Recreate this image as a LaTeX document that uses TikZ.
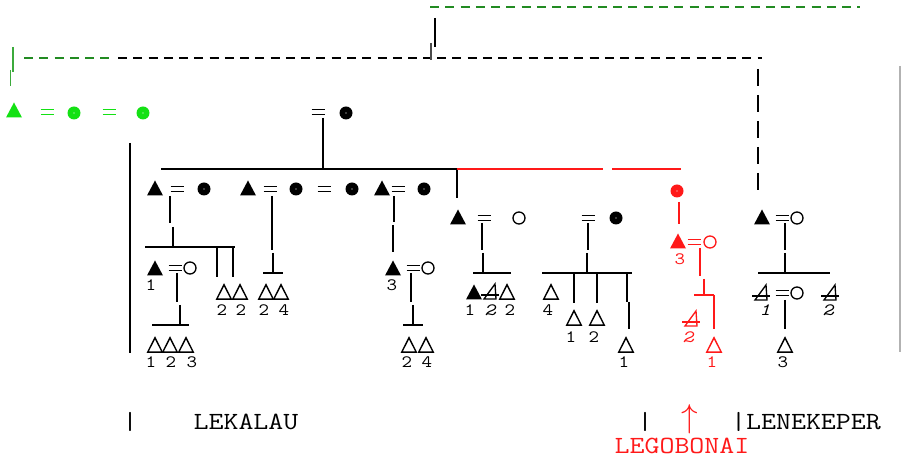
\documentclass[tikz,border=0pt]{standalone}
\usepackage{fontspec}
\newfontfamily\cmono{Latin Modern Mono}[FakeStretch=1.18]
\definecolor{gbright}{RGB}{20,225,20}
\definecolor{gdark}{RGB}{34,139,34}
\definecolor{gmid}{RGB}{60,170,60}
\definecolor{kred}{RGB}{255,25,25}
\begin{document}
\begin{tikzpicture}[x=0.75pt,y=-0.75pt,
  ln/.style={line width=1pt},
  bar/.style={line width=2pt},
  dsh/.style={line width=1.1pt, dash pattern=on 6.75pt off 4.7pt},
  num/.style={font=\cmono\fontsize{13}{13}\selectfont, inner sep=0pt},
  numi/.style={font=\cmono\itshape\fontsize{13}{13}\selectfont, inner sep=0pt},
  lab/.style={font=\cmono\fontsize{18.5}{19}\selectfont, inner sep=0pt, anchor=base},
  ftri/.pic={\fill (-8,7.5)--(8,7.5)--(0,-7.5)--cycle;},
  otri/.pic={\draw[line width=1.05pt, line join=miter] (-7.3,7.2)--(7.3,7.2)--(0,-7.2)--cycle;},
  xtri/.pic={\draw[line width=1pt, line join=miter] (-7,7)--(5,7)--(4,-8)--cycle; \draw[line width=1pt] (-10,3)--(8,3);},
  fcirc/.pic={\fill (0,0) circle (6.5); \fill[white] (0,0) circle (0.7);},
  ocirc/.pic={\draw[line width=1pt] (0,0) circle (6);},
  eq/.pic={\draw[line width=1pt] (-6.5,-2.5)--(6.5,-2.5) (-6.5,2.5)--(6.5,2.5);},
]
\useasboundingbox (0,0) rectangle (901,466);

% ---- top dashed frame ----
\draw[dsh, gdark] (430,7) -- (860,7);
\draw[ln] (435,18) -- (435,47);
\draw[line width=0.8pt, black!70] (431,43) -- (431,60);
\draw[dsh, gdark] (24,58) -- (113,58);
\draw[dsh] (118,58) -- (430,58);
\draw[dsh] (437,58) -- (762,58);
\draw[line width=0.8pt, gmid] (13,47) -- (13,72);
\draw[line width=0.8pt, gmid] (10.5,70) -- (10.5,86);
\draw[ln, dash pattern=on 12.75pt off 6.75pt] (758,69) -- (758,190);
\draw[line width=0.8pt, black!30] (900,66) -- (900,352);

% ---- green row ----
\begin{scope}[gbright]
\pic (g1) at (14,110) {ftri};
\pic (g2) at (47,112) {eq};
\pic (g3) at (74,113) {fcirc};
\pic (g4) at (109,112) {eq};
\pic (g5) at (143,113) {fcirc};
\end{scope}

% ---- top couple ----
\pic (t1) at (318,112) {eq};
\pic (t2) at (346,113) {fcirc};
\draw[ln] (323,118) -- (323,169);
\draw[ln] (161,169) -- (457,169);
\draw[bar] (313,169) -- (333,169);
\draw[ln] (457,169) -- (457,198);
\draw[ln, kred] (457,169) -- (603,169);
\draw[ln, kred] (612,169) -- (681,169);

% ---- row 188 ----
\pic (a1) at (155,188) {ftri};
\pic (a2) at (177,189) {eq};
\pic (a3) at (204,189) {fcirc};
\pic (a4) at (248,188) {ftri};
\pic (a5) at (270,189) {eq};
\pic (a6) at (296,189) {fcirc};
\pic (a7) at (324,189) {eq};
\pic (a8) at (352,189) {fcirc};
\pic (a9) at (382,188) {ftri};
\pic (a10) at (398,189) {eq};
\pic (a11) at (424,189) {fcirc};
\pic[kred] (r1) at (677,191) {fcirc};

% ---- row 217 ----
\pic (b1) at (458,217) {ftri};
\pic (b2) at (484,218) {eq};
\pic (b3) at (519,218) {ocirc};
\pic (b4) at (588,218) {eq};
\pic (b5) at (616,218) {fcirc};
\pic (b6) at (762,217) {ftri};
\pic (b7) at (782,218) {eq};
\pic (b8) at (797,218) {ocirc};
\pic[kred] (r2) at (678,241) {ftri};
\pic[kred] (r3) at (694,242) {eq};
\pic[kred] (r4) at (710,242) {ocirc};
\node[num, kred] (r5) at (680,259) {3};

% ---- lines from row 188 ----
\draw[ln] (170,196) -- (170,223);
\draw[ln] (173,227) -- (173,247);
\draw[ln] (145,247) -- (235,247);
\draw[bar] (163,247) -- (183,247);
\draw[ln] (217,247) -- (217,277);
\draw[ln] (233,247) -- (233,277);
\draw[ln] (272,196) -- (272,250);
\draw[ln] (273,253) -- (273,273);
\draw[bar] (263,273) -- (283,273);
\draw[ln] (394,196) -- (394,222);
\draw[ln] (393,225) -- (393,252);

% ---- row 268 ----
\pic (c1) at (155,268) {ftri};
\pic (c2) at (175,268) {eq};
\pic (c3) at (190,268) {ocirc};
\node[num] (c4) at (151,285) {1};
\pic (c5) at (393,268) {ftri};
\pic (c6) at (413,268) {eq};
\pic (c7) at (428,268) {ocirc};
\node[num] (c8) at (392,285) {3};
\draw[ln] (177,273) -- (177,302);
\draw[ln] (180,305) -- (180,325);
\draw[ln] (152,325) -- (189,325);
\draw[bar] (170,325) -- (189,325);
\draw[ln] (411,273) -- (411,302);
\draw[ln] (413,305) -- (413,325);
\draw[bar] (403,325) -- (423,325);

% ---- children of row 188 ----
\pic (d1) at (224,292) {otri};
\pic (d2) at (240,292) {otri};
\node[num] (d3) at (222,310) {2};
\node[num] (d4) at (241,310) {2};
\pic (d5) at (266,292) {otri};
\pic (d6) at (281,292) {otri};
\node[num] (d7) at (264,310) {2};
\node[num] (d8) at (284,310) {4};
\pic (e1) at (155,345) {otri};
\pic (e2) at (170,345) {otri};
\pic (e3) at (186,345) {otri};
\node[num] (e4) at (151,362) {1};
\node[num] (e5) at (171,362) {2};
\node[num] (e6) at (192,362) {3};
\pic (e7) at (409,345) {otri};
\pic (e8) at (426,345) {otri};
\node[num] (e9) at (407,362) {2};
\node[num] (e10) at (427,362) {4};

% ---- lines from row 217 ----
\draw[ln] (482,223) -- (482,250);
\draw[ln] (483,253) -- (483,273);
\draw[ln] (473,273) -- (511,273);
\draw[bar] (473,273) -- (493,273);
\draw[ln] (588,223) -- (588,250);
\draw[ln] (587,253) -- (587,273);
\draw[ln] (542,273) -- (632,273);
\draw[bar] (577,273) -- (597,273);
\draw[ln] (574,273) -- (574,303);
\draw[ln] (597,273) -- (597,303);
\draw[ln] (627,273) -- (627,302);
\draw[ln] (629,302) -- (629,329);
\draw[ln] (785,223) -- (785,250);
\draw[ln] (785,253) -- (785,273);
\draw[ln] (758,273) -- (830,273);
\draw[bar] (775,273) -- (795,273);
\draw[ln, kred] (679,202) -- (679,224);
\draw[ln, kred] (700,248) -- (700,276);
\draw[ln, kred] (704,279) -- (704,295);
\draw[bar, kred] (694,295) -- (714,295);
\draw[ln, kred] (714,295) -- (714,329);

% ---- children of row 217 ----
\pic (f1) at (474,292) {ftri};
\pic (f2) at (491,292) {xtri};
\pic (f3) at (507,292) {otri};
\node[num] (f4) at (470,310) {1};
\node[numi] (f5) at (490,310) {2};
\node[num] (f6) at (510,310) {2};
\pic (f7) at (551,292) {otri};
\node[num] (f8) at (548,310) {4};
\pic (f9) at (574,318) {otri};
\pic (f10) at (597,318) {otri};
\node[num] (f11) at (571,337) {1};
\node[num] (f12) at (594,337) {2};
\pic (f13) at (626,345) {otri};
\node[num] (f14) at (624,362) {1};
\pic[kred] (r6) at (692,319) {xtri};
\node[numi, kred] (r7) at (688,337) {2};
\pic[kred] (r8) at (714,345) {otri};
\node[num, kred] (r9) at (712,362) {1};
\pic (h1) at (762,293) {xtri};
\pic (h2) at (782,293) {eq};
\pic (h3) at (797,293) {ocirc};
\pic (h4) at (831,293) {xtri};
\node[numi] (h5) at (765,310) {1};
\node[numi] (h6) at (828,310) {2};
\draw[ln] (785,300) -- (785,329);
\pic (h7) at (785,345) {otri};
\node[num] (h8) at (783,362) {3};

% ---- left vertical ----
\draw[ln] (130,143) -- (130,353);

% ---- bottom labels ----
\node[lab] (bar1) at (130,430) {|};
\node[lab] (lek) at (246,430) {LEKALAU};
\node[lab] (bar2) at (645,430) {|};
\node[lab, kred, font=\fontsize{24}{24}\selectfont] (arr) at (690,428) {$\uparrow$};
\node[lab] (lene) at (806,430) {|LENEKEPER};
\node[lab, kred] (lego) at (682,454) {LEGOBONAI};
\end{tikzpicture}
\end{document}
